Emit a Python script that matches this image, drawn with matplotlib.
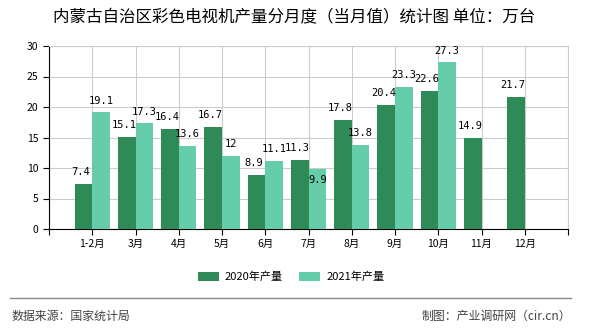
import matplotlib
matplotlib.use("Agg")
import matplotlib.pyplot as plt
import numpy as np

plt.rcParams['font.family'] = ['Noto Sans CJK SC', 'DejaVu Sans']

categories = ["1-2月", "3月", "4月", "5月", "6月", "7月", "8月", "9月", "10月", "11月", "12月"]
v2020 = [7.4, 15.1, 16.4, 16.7, 8.9, 11.3, 17.8, 20.4, 22.6, 14.9, 21.7]
v2021 = [19.1, 17.3, 13.6, 12, 11.1, 9.9, 13.8, 23.3, 27.3, None, None]
labels2020 = ["7.4", "15.1", "16.4", "16.7", "8.9", "11.3", "17.8", "20.4", "22.6", "14.9", "21.7"]
labels2021 = ["19.1", "17.3", "13.6", "12", "11.1", "9.9", "13.8", "23.3", "27.3"]

c2020 = "#2e8b57"
c2021 = "#66cdaa"

fig = plt.figure(figsize=(5.9, 3.3), dpi=100)
ax = fig.add_axes([49/590, 1-229/330, 519/590, 183/330])

x = np.arange(1, len(categories) + 1)
w = 0.41
y20 = np.array(v2020, dtype=float)
y21 = np.array([np.nan if v is None else v for v in v2021], dtype=float)
ax.bar(x - w/2, y20, width=w, color=c2020, zorder=3, label="2020年产量")
ax.bar(x + w/2, y21, width=w, color=c2021, zorder=3, label="2021年产量")

for xi, yi, lb in zip(x, y20, labels2020):
    ax.annotate(lb, (xi - w/2, yi), xytext=(-2, 5), textcoords="offset points",
                ha="center", va="bottom", fontsize=7.5, family="DejaVu Sans Mono", zorder=4)
for xi, yi, lb in zip(x, y21, labels2021):
    # the 7月 label sits just inside the bar top in the reference
    dy = -12 if lb == "9.9" else 5
    ax.annotate(lb, (xi + w/2, yi), xytext=(0, dy), textcoords="offset points",
                ha="center", va="bottom", fontsize=7.5, family="DejaVu Sans Mono", zorder=4)

ax.set_xlim(0, 12)
ax.set_ylim(0, 30)
ax.set_yticks(np.arange(0, 31, 5))
ax.set_xticks(np.arange(0, 13))
ax.set_xticklabels([""] + categories + [""])
ax.grid(True, color="#cccccc", linewidth=0.8, zorder=0)
ax.tick_params(axis="both", labelsize=7.5, length=4, color="black")
ax.tick_params(axis="x", direction="out")
ax.tick_params(axis="y", direction="out")
for s in ["top", "right"]:
    ax.spines[s].set_color("#cccccc")
for s in ["left", "bottom"]:
    ax.spines[s].set_color("black")

fig.text(294/590, 1-17/330, "内蒙古自治区彩色电视机产量分月度（当月值）统计图 单位：万台",
         ha="center", va="center", fontsize=11.9)

leg = fig.legend(loc="center", bbox_to_anchor=(291/590, 1-277/330), ncol=2, frameon=False,
                 fontsize=8, handlelength=1.9, handleheight=0.8, columnspacing=1.45, handletextpad=0.55)

fig.add_artist(plt.Line2D([10/590, 571/590], [1-298/330, 1-298/330], color="#888888", linewidth=1.0))
fig.text(11/590, 1-316/330, "数据来源：国家统计局", ha="left", va="center", fontsize=8.6, color="#444444")
fig.text(571/590, 1-316/330, "制图：产业调研网（cir.cn）", ha="right", va="center", fontsize=8.6, color="#444444")

fig.savefig("out.png", dpi=100)
